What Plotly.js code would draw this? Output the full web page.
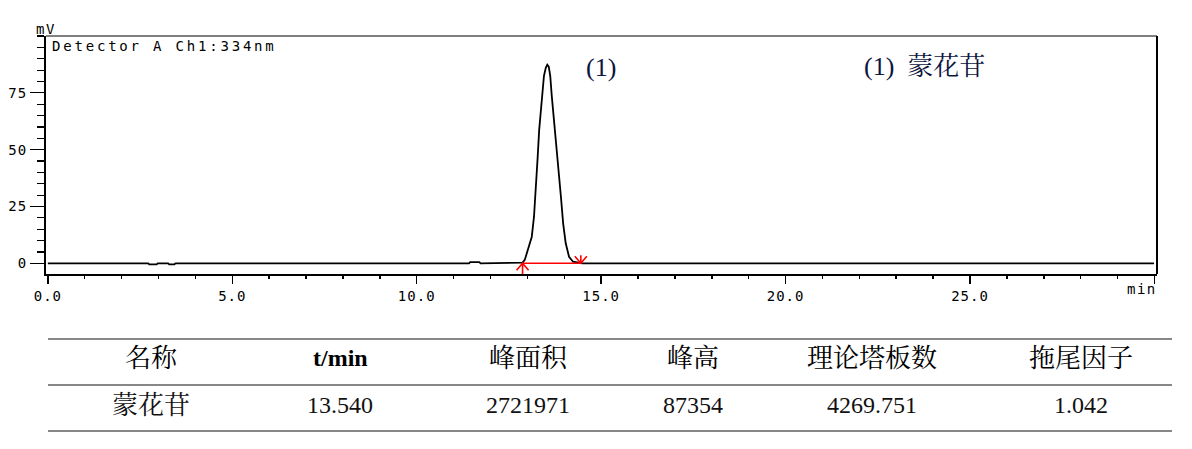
<!DOCTYPE html>
<html>
<head>
<meta charset="utf-8">
<script src="https://cdn.plot.ly/plotly-3.0.1.min.js"></script>
<style>
  html, body { margin: 0; padding: 0; background: #fff; }
  #chart { width: 1192px; height: 449px; }
  .xtick text, .ytick text { letter-spacing: 1px; }
  .annotation[data-index="0"] text { letter-spacing: 2.8px; }
  .annotation[data-index="1"] text, .annotation[data-index="2"] text { letter-spacing: 1.5px; }
</style>
</head>
<body>
<div id="chart"></div>
<script>
// ---- chromatogram data ----
const time = [0, 2.72, 2.75, 2.95, 2.98, 3.26, 3.29, 3.43, 3.46, 11.42, 11.45, 11.70, 11.73, 12.80,
  12.87, 12.93, 13.02, 13.12, 13.18, 13.23, 13.28, 13.32, 13.40, 13.45, 13.50, 13.54, 13.58, 13.62,
  13.66, 13.70, 13.75, 13.79, 13.84, 13.91, 13.97, 14.04, 14.13, 14.24, 14.42, 14.50, 29.99];
const signal = [0, 0, -0.5, -0.5, 0, 0, -0.5, -0.5, 0, 0, 0.5, 0.5, 0, 0,
  0.3, 1.5, 5.9, 11.7, 20.5, 32.2, 46.9, 58.6, 74.0, 82.5, 86.0, 87.35, 86.5, 82.5,
  74.0, 67.0, 60.0, 52.7, 41.0, 29.3, 17.6, 8.8, 2.9, 0.7, 0.2, 0, 0];
const peakBounds = [12.87, 14.45];
const peakBaseline = [0, 0];

const xTickVals = [0, 5, 10, 15, 20, 25, 30];
const xTickText = ['0.0', '5.0', '10.0', '15.0', '20.0', '25.0', ''];
const yTickVals = [0, 25, 50, 75];
const yTickText = ['0', '25', '50', '75'];

const detectorText = 'Detector A Ch1:334nm';
const yUnit = 'mV';
const xUnit = 'min';
const peakLabel = '(1)';
const peakPos = [15.0, 86];
const legendText = '(1)  蒙花苷';
const legendPos = [22.08, 86.4];

const tableHeaders = ['名称', 't/min', '峰面积', '峰高', '理论塔板数', '拖尾因子'];
const tableRow = ['蒙花苷', '13.540', '2721971', '87354', '4269.751', '1.042'];

// ---- layout geometry (pixels) ----
const W = 1192, H = 449;
const M = { l: 46, r: 35, t: 36, b: 175 };
const PW = W - M.l - M.r, PH = H - M.t - M.b;
const px = X => (X - M.l) / PW;
const py = Y => (M.t + PH - Y) / PH;

const colCenters = [151, 340, 528, 693, 872, 1081];
const tableLinesY = [339, 385, 431];
const tableX = [48, 1172];
const headerY = 358, rowY = 405;

const monoFont = 'DejaVu Sans Mono, monospace';
const serifFont = 'Liberation Serif, Noto Serif CJK SC, Noto Sans CJK SC, serif';
const isCJK = s => /[\u4e00-\u9fff]/.test(s) && !/[0-9A-Za-z]/.test(s);

const traces = [
  { x: time, y: signal, type: 'scatter', mode: 'lines',
    line: { color: '#000', width: 1.8 }, hoverinfo: 'skip' },
  { x: peakBounds, y: peakBaseline, type: 'scatter', mode: 'lines',
    line: { color: '#ff0000', width: 1.4 }, hoverinfo: 'skip' }
];

const shapes = [
  { type: 'line', xref: 'paper', yref: 'paper', x0: 0, x1: 1, y0: 1, y1: 1, line: { color: '#000', width: 1 } },
  { type: 'line', xref: 'paper', yref: 'paper', x0: 1, x1: 1, y0: 0, y1: 1, line: { color: '#000', width: 2 } },
  { type: 'path', xref: 'x', yref: 'y', xsizemode: 'pixel', ysizemode: 'pixel',
    xanchor: peakBounds[0], yanchor: peakBaseline[0], path: 'M-6,-7L0,0L6,-7M0,0L0,-11',
    line: { color: '#ff0000', width: 1.6 } },
  { type: 'path', xref: 'x', yref: 'y', xsizemode: 'pixel', ysizemode: 'pixel',
    xanchor: peakBounds[1], yanchor: peakBaseline[1], path: 'M-6,7L0,0L6,7M0,0L0,8',
    line: { color: '#ff0000', width: 1.6 } }
];
tableLinesY.forEach(Y => shapes.push({
  type: 'line', xref: 'paper', yref: 'paper', x0: px(tableX[0]), x1: px(tableX[1]), y0: py(Y), y1: py(Y),
  line: { color: '#111', width: 1.2 }
}));

const annotations = [
  { text: detectorText, xref: 'paper', yref: 'paper', x: px(50), y: py(46), xanchor: 'left', yanchor: 'middle',
    align: 'left', showarrow: false, font: { family: monoFont, size: 14, color: '#000' } },
  { text: yUnit, xref: 'paper', yref: 'paper', x: px(34), y: py(29), xanchor: 'left', yanchor: 'middle',
    align: 'left', showarrow: false, font: { family: monoFont, size: 14, color: '#000' } },
  { text: xUnit, xref: 'paper', yref: 'paper', x: px(1125), y: py(289), xanchor: 'left', yanchor: 'middle',
    align: 'left', showarrow: false, font: { family: monoFont, size: 14, color: '#000' } },
  { text: peakLabel, xref: 'x', yref: 'y', x: peakPos[0], y: peakPos[1], xanchor: 'center', yanchor: 'middle',
    showarrow: false, font: { family: serifFont, size: 26, color: '#0c1440' } },
  { text: legendText, xref: 'x', yref: 'y', x: legendPos[0], y: legendPos[1], xanchor: 'left', yanchor: 'middle',
    showarrow: false, font: { family: serifFont, size: 26, color: '#0c1440' } }
];
tableHeaders.forEach((t, i) => annotations.push({
  text: i === 1 ? '<b>' + t + '</b>' : t, xref: 'paper', yref: 'paper', x: px(colCenters[i]), y: py(headerY),
  xanchor: 'center', yanchor: 'middle', showarrow: false,
  font: { family: serifFont, size: isCJK(t) ? 26 : 24, color: '#000' }
}));
tableRow.forEach((t, i) => annotations.push({
  text: t, xref: 'paper', yref: 'paper', x: px(colCenters[i]), y: py(rowY),
  xanchor: 'center', yanchor: 'middle', showarrow: false,
  font: { family: serifFont, size: isCJK(t) ? 26 : 24, color: '#111' }
}));

const layout = {
  width: W, height: H, margin: M, paper_bgcolor: '#fff', plot_bgcolor: '#fff', showlegend: false,
  xaxis: {
    range: [-0.05, 30.07], showgrid: false, zeroline: false, showline: true, linecolor: '#000', linewidth: 2,
    tickmode: 'array', tickvals: xTickVals, ticktext: xTickText, ticks: 'outside', ticklen: 8, tickwidth: 1.5,
    tickcolor: '#000', tickfont: { family: monoFont, size: 14, color: '#000' },
    minor: { tickmode: 'linear', tick0: 0, dtick: 1, ticks: 'outside', ticklen: 3, tickwidth: 1.5, tickcolor: '#000', showgrid: false }
  },
  yaxis: {
    range: [-4.7, 100], showgrid: false, zeroline: false, showline: true, linecolor: '#000', linewidth: 2,
    tickmode: 'array', tickvals: yTickVals, ticktext: yTickText, ticks: 'outside', ticklen: 14, tickwidth: 1.2,
    tickcolor: '#000', tickfont: { family: monoFont, size: 14, color: '#000' },
    minor: { tickmode: 'linear', tick0: 0, dtick: 5, ticks: 'outside', ticklen: 7, tickwidth: 1.2, tickcolor: '#000', showgrid: false }
  },
  shapes: shapes,
  annotations: annotations
};

Plotly.newPlot('chart', traces, layout, { staticPlot: true, displayModeBar: false });
</script>
</body>
</html>
